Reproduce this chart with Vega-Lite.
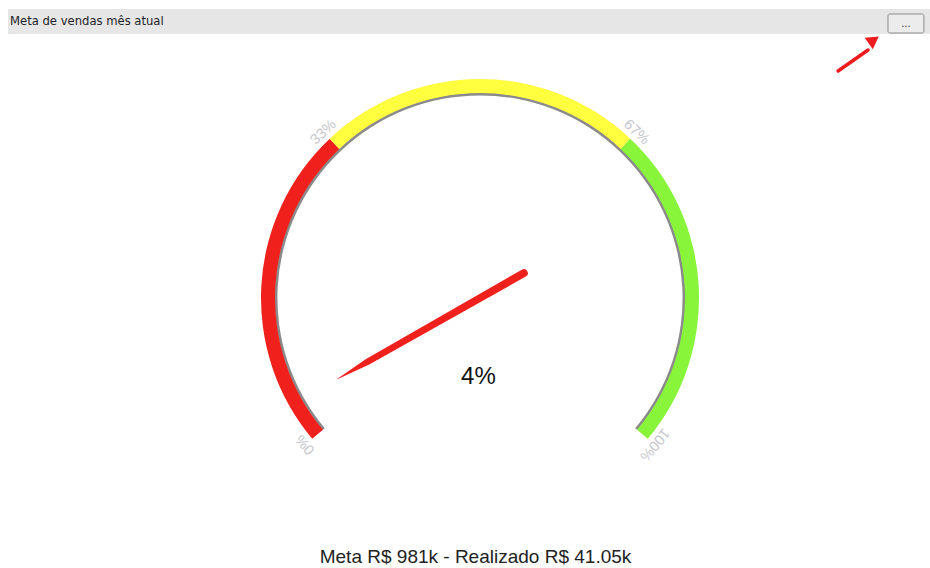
{
  "$schema": "https://vega.github.io/schema/vega-lite/v6.json",
  "width": 930,
  "height": 568,
  "autosize": {"type": "none"},
  "padding": 0,
  "background": "white",
  "config": {"view": {"stroke": null}},
  "datasets": {
    "header": [{"x": -2.155, "x2": 2.0548, "y": 1.3196, "y2": 1.2055}],
    "headerText": [{"x": -2.146, "y": 1.2603, "label": "Meta de vendas mês atual"}],
    "button": [{"x": 1.863, "x2": 2.027, "y": 1.2968, "y2": 1.2100}],
    "buttonText": [{"x": 1.945, "y": 1.2512, "label": "..."}],
    "arrowLine": [{"i": 0, "x": 1.635, "y": 1.0365}, {"i": 1, "x": 1.772, "y": 1.1324}],
    "arrowHead": [{"x": 1.798, "y": 1.1781}],
    "bands": [
      {"x": 0, "y": 0, "from": 0, "to": 100, "r0": 0.925, "r1": 0.938, "band": "shadow"},
      {"x": 0, "y": 0, "from": 0, "to": 33.33, "r0": 0.936, "r1": 1.0, "band": "low"},
      {"x": 0, "y": 0, "from": 33.33, "to": 66.67, "r0": 0.936, "r1": 1.0, "band": "mid"},
      {"x": 0, "y": 0, "from": 66.67, "to": 100, "r0": 0.936, "r1": 1.0, "band": "high"}
    ],
    "ticks": [
      {"x": 0, "y": 0, "pct": 0, "r": 1.04, "label": "0%"},
      {"x": 0, "y": 0, "pct": 33.33, "r": 1.04, "label": "33%"},
      {"x": 0, "y": 0, "pct": 66.67, "r": 1.04, "label": "67%"},
      {"x": 0, "y": 0, "pct": 100, "r": 1.04, "label": "100%"}
    ],
    "needle": [
      {"i": 0, "x": 0.2000, "y": 0.1136, "thickness": 1.0},
      {"i": 1, "x": -0.5130, "y": -0.2914, "thickness": 0.8},
      {"i": 2, "x": -0.6521, "y": -0.3704, "thickness": 0.05}
    ],
    "value": [{"x": -0.007, "y": -0.3607, "label": "4%"}],
    "footer": [{"x": -0.0205, "y": -1.1826, "label": "Meta R$ 981k - Realizado R$ 41.05k"}]
  },
  "encoding": {
    "x": {"field": "x", "type": "quantitative", "scale": {"domain": [-2.1918, 2.0548], "nice": false, "zero": false}, "axis": null},
    "y": {"field": "y", "type": "quantitative", "scale": {"domain": [-1.2329, 1.3607], "nice": false, "zero": false}, "axis": null}
  },
  "layer": [
    {
      "data": {"name": "header"},
      "mark": {"type": "rect", "color": "#e6e6e6"},
      "encoding": {"x2": {"field": "x2"}, "y2": {"field": "y2"}}
    },
    {
      "data": {"name": "headerText"},
      "mark": {"type": "text", "align": "left", "baseline": "middle", "font": "DejaVu Sans", "fontSize": 11.6, "color": "#1e1e28"},
      "encoding": {"text": {"field": "label"}}
    },
    {
      "data": {"name": "button"},
      "mark": {"type": "rect", "fill": "#ececec", "stroke": "#8c8c8c", "strokeWidth": 1, "cornerRadius": 2},
      "encoding": {"x2": {"field": "x2"}, "y2": {"field": "y2"}}
    },
    {
      "data": {"name": "buttonText"},
      "mark": {"type": "text", "align": "center", "baseline": "middle", "font": "DejaVu Sans", "fontSize": 10, "color": "#333333"},
      "encoding": {"text": {"field": "label"}}
    },
    {
      "data": {"name": "arrowLine"},
      "mark": {"type": "line", "color": "#ee1c1c", "strokeWidth": 3.5, "strokeCap": "round"},
      "encoding": {"order": {"field": "i"}}
    },
    {
      "data": {"name": "arrowHead"},
      "mark": {"type": "point", "shape": "triangle-up", "filled": true, "color": "#ee1c1c", "opacity": 1, "size": 200, "angle": 55}
    },
    {
      "data": {"name": "bands"},
      "mark": {"type": "arc"},
      "encoding": {
        "theta": {"field": "from", "type": "quantitative", "stack": null, "scale": {"domain": [0, 100], "range": [-2.2689, 2.2689]}},
        "theta2": {"field": "to"},
        "radius": {"field": "r1", "type": "quantitative", "scale": {"type": "linear", "domain": [0, 1], "range": [0, 219], "zero": true}},
        "radius2": {"field": "r0"},
        "color": {"field": "band", "type": "nominal", "scale": {"domain": ["shadow", "low", "mid", "high"], "range": ["#8a8a8a", "#f0201c", "#ffff40", "#88f43a"]}, "legend": null}
      }
    },
    {
      "data": {"name": "ticks"},
      "mark": {"type": "text", "align": "center", "baseline": "middle", "font": "Liberation Sans", "fontSize": 14.5, "color": "#c6c6cc"},
      "encoding": {
        "theta": {"field": "pct", "type": "quantitative", "stack": null, "scale": {"domain": [0, 100], "range": [-2.2689, 2.2689]}},
        "radius": {"field": "r", "type": "quantitative", "scale": {"type": "linear", "domain": [0, 1], "range": [0, 219], "zero": true}},
        "angle": {"field": "pct", "type": "quantitative", "scale": {"domain": [0, 100], "range": [-130, 130]}, "legend": null},
        "text": {"field": "label"}
      }
    },
    {
      "data": {"name": "needle"},
      "mark": {"type": "trail", "color": "#f0201c"},
      "encoding": {
        "order": {"field": "i"},
        "size": {"field": "thickness", "type": "quantitative", "scale": {"domain": [0, 1], "range": [0, 8]}, "legend": null}
      }
    },
    {
      "data": {"name": "value"},
      "mark": {"type": "text", "align": "center", "baseline": "middle", "font": "Liberation Sans", "fontSize": 24, "color": "#111111"},
      "encoding": {"text": {"field": "label"}}
    },
    {
      "data": {"name": "footer"},
      "mark": {"type": "text", "align": "center", "baseline": "middle", "font": "Liberation Sans", "fontSize": 19, "color": "#222222"},
      "encoding": {"text": {"field": "label"}}
    }
  ]
}
